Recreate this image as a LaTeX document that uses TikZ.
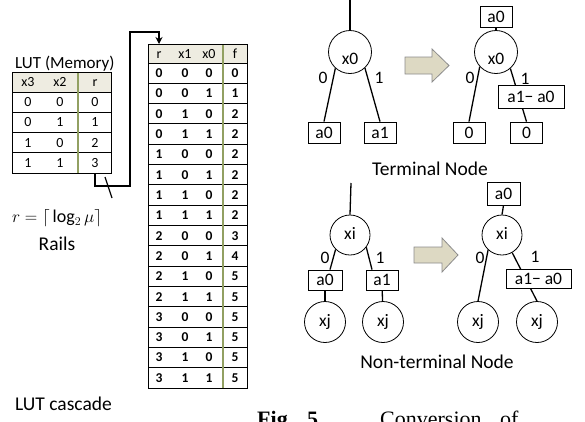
\documentclass[tikz,border=0pt]{standalone}
\usepackage{fontspec}
\setmainfont{Carlito}
\newfontfamily\capfont{Liberation Serif}
\usetikzlibrary{arrows.meta,calc}

\definecolor{hdrfill}{HTML}{EEECE1}
\definecolor{divcolor}{RGB}{146,160,98}
\definecolor{arrowfill}{HTML}{DDD9C3}
\definecolor{arrowline}{HTML}{8C8C8C}

\tikzset{
  tabframe/.style={draw, line width=1pt, anchor=north west, inner sep=0pt},
  rowline/.style={line width=1pt},
  divline/.style={draw=divcolor, line width=1.2pt},
  lutcell/.style={anchor=base, inner sep=0pt, font=\fontsize{14}{16}\selectfont},
  cascbold/.style={anchor=base, inner sep=0pt, font=\fontsize{13.5}{16}\selectfont\bfseries},
  casccap/.style={anchor=base, inner sep=0pt, font=\fontsize{14}{16}\selectfont},
  bus/.style={line width=1.6pt},
  var/.style={circle, draw, line width=0.8pt, minimum size=41pt, inner sep=0pt,
    font=\fontsize{17.5}{20}\selectfont, text height=8.2pt, text depth=0pt},
  vartop/.style={var, minimum size=43pt, text height=25pt},
  leaf/.style={rectangle, draw, line width=0.8pt, fill=white, minimum width=32pt,
    minimum height=21pt, inner sep=0pt, font=\fontsize{17.5}{20}\selectfont},
  edge/.style={line width=1.3pt},
  elabel/.style={inner sep=0pt, font=\fontsize{17.5}{20}\selectfont},
  heading/.style={anchor=base, inner sep=0pt, font=\fontsize{19.5}{22}\selectfont},
  convert/.style={fill=arrowfill, draw=arrowline, line width=0.8pt},
  figtext/.style={anchor=base west, inner sep=0pt, font=\capfont\fontsize{22}{24}\selectfont},
}

\begin{document}
\begin{tikzpicture}[x=1pt,y=-1pt]
\useasboundingbox (0,0) rectangle (585,421);
\clip (0,0) rectangle (585,421);

% ---------- LUT (memory) table
\node[anchor=base west, inner sep=0pt, font=\fontsize{17}{20}\selectfont] (lutcap) at (15,68) {LUT (Memory)};
\fill[hdrfill] (12,72) rectangle (111,92);
\foreach \yy in {92,112.25,132.5,152.75} \draw[rowline] (12,\yy) -- (111,\yy);
\draw[divline] (78,72) -- (78,173);
\node[tabframe, minimum width=99pt, minimum height=101pt] (lut) at (12,72) {};
\node[lutcell] (lut-h1) at (28,86.5) {x3};
\node[lutcell] (lut-h2) at (60,86.5) {x2};
\node[lutcell] (lut-h3) at (95,86.5) {r};
\foreach \va/\vb/\vc [count=\i] in {0/0/0,0/1/1,1/0/2,1/1/3} {
  \pgfmathsetmacro\yb{92+20.25*(\i-0.5)+4.5}
  \node[lutcell] (lut-\i-1) at (28,\yb) {\va};
  \node[lutcell] (lut-\i-2) at (60,\yb) {\vb};
  \node[lutcell] (lut-\i-3) at (95,\yb) {\vc};
}

% ---------- cascade table
\fill[hdrfill] (148,44) rectangle (247,63);
\foreach \k in {0,...,15} {
  \pgfmathsetmacro\yy{63+20.3125*\k}
  \draw[rowline] (148,\yy) -- (247,\yy);
}
\draw[divline] (223,44) -- (223,388);
\node[tabframe, minimum width=99pt, minimum height=344pt] (casc) at (148,44) {};
\node[casccap] (casc-h1) at (159,58) {r};
\node[casccap] (casc-h2) at (185,58) {x1};
\node[casccap] (casc-h3) at (209,58) {x0};
\node[casccap] (casc-h4) at (235,58) {f};
\foreach \va/\vb/\vc/\vd [count=\i] in {0/0/0/0,0/0/1/1,0/1/0/2,0/1/1/2,1/0/0/2,1/0/1/2,1/1/0/2,1/1/1/2,
    2/0/0/3,2/0/1/4,2/1/0/5,2/1/1/5,3/0/0/5,3/0/1/5,3/1/0/5,3/1/1/5} {
  \pgfmathsetmacro\yb{63+20.3125*(\i-0.5)+4.4}
  \node[cascbold] (casc-\i-1) at (159,\yb) {\va};
  \node[cascbold] (casc-\i-2) at (185,\yb) {\vb};
  \node[cascbold] (casc-\i-3) at (209,\yb) {\vc};
  \node[cascbold] (casc-\i-4) at (235,\yb) {\vd};
}

% ---------- rail bus from LUT output to the cascade input
\coordinate (busdrop) at (130,186);
\coordinate (busturn) at (130,32);
\draw[bus, -{Stealth[length=7pt,width=7pt]}]
  (lut-h3 |- lut.south) |- (busdrop) -- (busturn) -| (casc-h1 |- casc.north);
\draw[line width=1.2pt] (105,177) -- (112,198);

\node[anchor=base, inner sep=0pt, font=\fontsize{18}{20}\selectfont] (railseq) at (57,222)
  {$r = \lceil\, \log_2 \mu \rceil$};
\node[heading] (rails) at (57,250) {Rails};
\node[heading, anchor=base west] (lutcascade) at (15,410) {LUT cascade};

% ---------- terminal node: before
\coordinate (tlin) at (350,-2);
\node[vartop] (c1) at (350,52) {x0};
\node[leaf] (tl0) at (324,132.5) {a0};
\node[leaf] (tl1) at (380,132.5) {a1};
\draw[edge] (tlin) -- (c1.north);
\draw[edge] (c1.228) -- (tl0.north);
\draw[edge] (c1.313) -- (tl1.north);
\node[elabel] (tl0lab) at (323,78) {0};
\node[elabel] (tl1lab) at (379,78) {1};

\draw[convert] (405,57) -- (432,57) -- (432,49) -- (449,65.5) -- (432,82) -- (432,74) -- (405,74) -- cycle;

% ---------- terminal node: after
\node[leaf] (ta) at (496,17) {a0};
\node[vartop] (c2) at (496,52) {x0};
\node[leaf] (tr0) at (469,132.5) {0};
\node[leaf] (tr1) at (526.5,132.5) {0};
\draw[edge] (ta.south) -- (c2.north);
\draw[edge] (c2.222) -- (tr0.north);
\draw[edge] (c2.311) -- (tr1.north);
\node[elabel] (tr0lab) at (470,78) {0};
\node[elabel] (tr1lab) at (525,79) {1};
\node[leaf, minimum width=66pt, minimum height=23pt] (tsub) at (531,96.5) {a1− a0};

\node[heading] (terminal) at (430,175) {Terminal Node};

% ---------- non-terminal node: before
\coordinate (blin) at (351,183);
\node[var, minimum size=40pt] (c3) at (350,235) {xi};
\node[leaf, minimum width=34pt, minimum height=20pt] (bl0) at (325,280) {a0};
\node[leaf, minimum height=20pt] (bl1) at (382,280) {a1};
\node[var] (cj1) at (325,322) {xj};
\node[var] (cj2) at (383,322) {xj};
\draw[edge] (blin) -- (c3.north);
\draw[edge] (c3.225) -- ([xshift=5pt]bl0.north);
\draw[edge] (c3.323) -- ([xshift=-10pt]bl1.north);
\draw[edge] (bl0) -- (cj1);
\draw[edge] (bl1) -- (cj2);
\node[elabel] (bl0lab) at (325,258) {0};
\node[elabel] (bl1lab) at (380,258) {1};

\draw[convert] (414,247) -- (442,247) -- (442,238) -- (458,255) -- (442,272) -- (442,263) -- (414,263) -- cycle;

% ---------- non-terminal node: after
\node[leaf, minimum width=33pt, minimum height=23pt] (ba) at (503.5,193.5) {a0};
\node[var, minimum size=40pt] (c4) at (502,235) {xi};
\node[var] (cj3) at (478,322) {xj};
\node[var] (cj4) at (537,322) {xj};
\draw[edge] (ba.south) -- (c4.north);
\draw[edge] (c4.227) -- (cj3.north);
\draw[edge] (c4.300) -- (cj4.north);
\node[elabel] (br0lab) at (480,258) {0};
\node[elabel] (br1lab) at (535,257) {1};
\node[leaf, minimum width=65pt, minimum height=19pt] (bsub) at (538.5,279) {a1− a0};

\node[heading] (nonterminal) at (437,368) {Non-terminal Node};

% ---------- caption line, cut by the lower edge
\node[figtext] (figword) at (257,426) {\bfseries Fig.};
\node[figtext] (fignum) at (307,426) {\bfseries 5.};
\node[figtext] (figconv) at (380,426) {Conversion};
\node[figtext] (figof) at (500,426) {of};
\end{tikzpicture}
\end{document}
